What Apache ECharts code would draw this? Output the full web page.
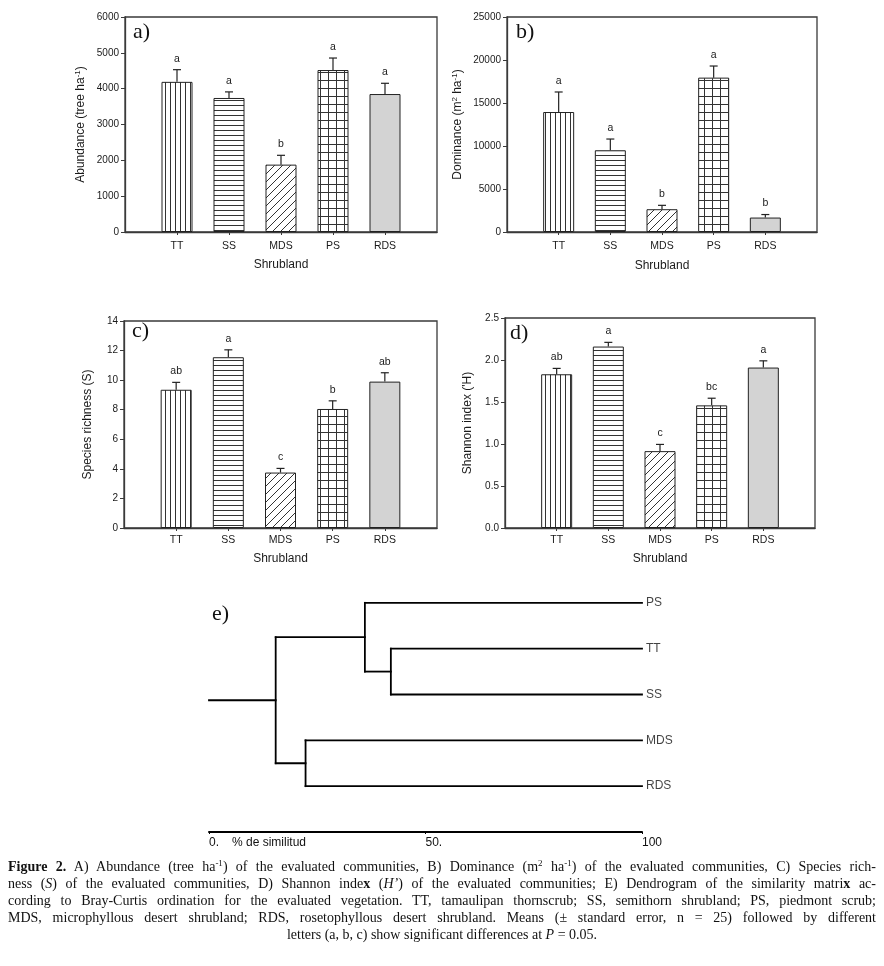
<!DOCTYPE html>
<html><head><meta charset="utf-8">
<script src="https://cdn.jsdelivr.net/npm/echarts@6/dist/echarts.min.js"></script>
<style>
html,body{margin:0;padding:0;background:#fff;}
#chart{position:absolute;left:0;top:0;width:884px;height:966px;}
#caption{position:absolute;left:8px;top:858px;width:868px;font-family:"Liberation Serif","Times New Roman",serif;font-size:14px;color:#111;}
#caption div{height:17px;line-height:17px;white-space:nowrap;text-align:justify;text-align-last:justify;}
#caption div.last{text-align:center;text-align-last:center;}
#caption sup{font-size:9px;line-height:0;vertical-align:5px;}
</style></head><body>
<div id="chart"></div>
<div id="caption"></div>
<script>
// ---------- data ----------
const shrublands = ['TT', 'SS', 'MDS', 'PS', 'RDS'];

const abundance = [4190, 3740, 1880, 4520, 3850];
const abundanceSE = [340, 170, 260, 335, 300];
const abundanceLetters = ['a', 'a', 'b', 'a', 'a'];

const dominance = [13950, 9500, 2650, 17950, 1680];
const dominanceSE = [2330, 1310, 450, 1350, 350];
const dominanceLetters = ['a', 'a', 'b', 'a', 'b'];

const richness = [9.35, 11.55, 3.75, 8.05, 9.9];
const richnessSE = [0.5, 0.5, 0.28, 0.55, 0.6];
const richnessLetters = ['ab', 'a', 'c', 'b', 'ab'];

const shannon = [1.83, 2.16, 0.915, 1.46, 1.91];
const shannonSE = [0.07, 0.05, 0.08, 0.085, 0.08];
const shannonLetters = ['ab', 'a', 'c', 'bc', 'a'];

const dendroLeaves = ['PS', 'TT', 'SS', 'MDS', 'RDS'];
// [childA, childB, similarity %]  (m0, m1... refer to earlier merges)
const dendroMerges = [
  ['TT', 'SS', 42.0],
  ['PS', 'm0', 36.0],
  ['MDS', 'RDS', 22.3],
  ['m1', 'm2', 15.4]
];
const dendroTickLabels = ['0.', '50.', '100'];

const captionLines = [
  '<b>Figure 2.</b> A) Abundance (tree ha<sup>-1</sup>) of the evaluated communities, B) Dominance (m<sup>2</sup> ha<sup>-1</sup>) of the evaluated communities, C) Species rich-',
  'ness (<i>S</i>) of the evaluated communities, D) Shannon inde<b>x</b> (<i>H’</i>) of the evaluated communities; E) Dendrogram of the similarity matri<b>x</b> ac-',
  'cording to Bray-Curtis ordination for the evaluated vegetation. TT, tamaulipan thornscrub; SS, semithorn shrubland; PS, piedmont scrub;',
  'MDS, microphyllous desert shrubland; RDS, rosetophyllous desert shrubland. Means (± standard error, n = 25) followed by different',
  'letters (a, b, c) show significant differences at <i>P</i> = 0.05.'
];

// ---------- caption ----------
document.getElementById('caption').innerHTML = captionLines
  .map((l, i) => '<div' + (i === captionLines.length - 1 ? ' class="last"' : '') + '>' + l + '</div>').join('');

// ---------- patterns ----------
function makePattern(kind) {
  const c = document.createElement('canvas');
  const s = kind === 'vertical' || kind === 'horizontal' ? 5 : 8;
  c.width = s; c.height = s;
  const ctx = c.getContext('2d');
  ctx.fillStyle = '#ffffff';
  ctx.fillRect(0, 0, s, s);
  ctx.strokeStyle = '#333333';
  ctx.lineWidth = 1;
  ctx.beginPath();
  if (kind === 'vertical' || kind === 'grid') { ctx.moveTo(0.5, 0); ctx.lineTo(0.5, s); }
  if (kind === 'horizontal' || kind === 'grid') { ctx.moveTo(0, 0.5); ctx.lineTo(s, 0.5); }
  if (kind === 'diagonal') {
    ctx.moveTo(-1, s + 1); ctx.lineTo(s + 1, -1);
    ctx.moveTo(-1, 1); ctx.lineTo(1, -1);
    ctx.moveTo(s - 1, s + 1); ctx.lineTo(s + 1, s - 1);
  }
  ctx.stroke();
  return { image: c, repeat: 'repeat' };
}
const barFills = [makePattern('vertical'), makePattern('horizontal'), makePattern('diagonal'), makePattern('grid'), '#d3d3d3'];

// ---------- layout ----------
const SANS = 'Liberation Sans, Arial, sans-serif';
const SERIF = 'Liberation Serif, Times New Roman, serif';
const panels = [
  { grid: { left: 125, top: 17, width: 312, height: 215 }, vals: abundance, se: abundanceSE, letters: abundanceLetters,
    max: 6000, interval: 1000, name: '{n|Abundance (tree ha}{s|-1}{n|)}', nameGap: 37, xNameGap: 27, xMargin: 9, tag: 'a)', tagPos: [133, 21] },
  { grid: { left: 507, top: 17, width: 310, height: 215 }, vals: dominance, se: dominanceSE, letters: dominanceLetters,
    max: 25000, interval: 5000, name: '{n|Dominance (m}{s|2}{n| ha}{s|-1}{n|)}', nameGap: 42, xNameGap: 28, xMargin: 9, tag: 'b)', tagPos: [516, 21] },
  { grid: { left: 124, top: 321, width: 313, height: 207 }, vals: richness, se: richnessSE, letters: richnessLetters,
    max: 14, interval: 2, name: '{n|Species richness (S)}', nameGap: 29, xNameGap: 25, xMargin: 7, tag: 'c)', tagPos: [132, 320] },
  { grid: { left: 505, top: 318, width: 310, height: 210 }, vals: shannon, se: shannonSE, letters: shannonLetters,
    max: 2.5, interval: 0.5, name: "{n|Shannon index ('H)}", nameGap: 30, xNameGap: 25, xMargin: 7, tag: 'd)', tagPos: [510, 322], dec: 1 }
];

const xCats = [''].concat(shrublands, ['']);
const option = {
  animation: false,
  backgroundColor: '#ffffff',
  textStyle: { fontFamily: SANS },
  title: [],
  grid: [],
  xAxis: [],
  yAxis: [],
  series: [],
  graphic: []
};

panels.forEach((p, gi) => {
  option.grid.push(Object.assign({ show: true, borderColor: '#3a3a3a', borderWidth: 1.3, backgroundColor: 'transparent' }, p.grid));
  option.title.push({ text: p.tag, left: p.tagPos[0], top: p.tagPos[1], padding: 0,
    textStyle: { fontFamily: SERIF, fontSize: 22, fontWeight: 'normal', color: '#111' } });
  option.xAxis.push({
    gridIndex: gi, type: 'category', data: xCats, boundaryGap: false,
    axisLine: { lineStyle: { color: '#3a3a3a', width: 1.3 } },
    axisTick: { show: true, length: 3, interval: (idx, val) => val !== '', lineStyle: { color: '#3a3a3a' } },
    axisLabel: { interval: 0, fontSize: 10.5, color: '#1a1a1a', margin: p.xMargin },
    name: 'Shrubland', nameLocation: 'middle', nameGap: p.xNameGap,
    nameTextStyle: { fontSize: 12, color: '#1a1a1a' },
    splitLine: { show: false }
  });
  option.yAxis.push({
    gridIndex: gi, type: 'value', min: 0, max: p.max, interval: p.interval,
    axisLine: { show: true, lineStyle: { color: '#3a3a3a', width: 1.3 } },
    axisTick: { show: true, length: 4, lineStyle: { color: '#3a3a3a' } },
    axisLabel: { fontSize: 10, color: '#1a1a1a', margin: 6,
      formatter: v => p.dec ? v.toFixed(p.dec) : String(v) },
    splitLine: { show: false },
    name: p.name, nameLocation: 'middle', nameGap: p.nameGap, nameRotate: 90,
    nameTextStyle: { rich: {
      n: { fontSize: 12, color: '#1a1a1a', fontFamily: SANS, lineHeight: 14 },
      s: { fontSize: 8, color: '#1a1a1a', fontFamily: SANS, lineHeight: 8, verticalAlign: 'top' }
    } }
  });
  option.series.push({
    type: 'bar', xAxisIndex: gi, yAxisIndex: gi, barWidth: 31,
    data: p.vals.map((v, i) => ({ value: [i + 1, v], itemStyle: { color: barFills[i] } })),
    itemStyle: { borderColor: '#222', borderWidth: 1 },
    silent: true
  });
  option.series.push({
    type: 'custom', xAxisIndex: gi, yAxisIndex: gi,
    data: p.vals.map((v, i) => [i + 1, v, v + p.se[i]]),
    encode: { x: 0, y: 2 },
    renderItem: (params, api) => {
      const i = params.dataIndex;
      const b = api.coord([api.value(0), api.value(1)]);
      const t = api.coord([api.value(0), api.value(2)]);
      const st = { stroke: '#222', lineWidth: 1.2 };
      return { type: 'group', children: [
        { type: 'line', shape: { x1: b[0], y1: b[1], x2: t[0], y2: t[1] }, style: st },
        { type: 'line', shape: { x1: t[0] - 4, y1: t[1], x2: t[0] + 4, y2: t[1] }, style: st },
        { type: 'text', x: t[0], y: t[1] - 11, style: { text: p.letters[i], fontSize: 10.5, fontFamily: SANS,
          fill: '#1a1a1a', align: 'center', verticalAlign: 'middle' } }
      ] };
    },
    silent: true
  });
});

// ---------- dendrogram ----------
const pos = {};
dendroLeaves.forEach((n, i) => { pos[n] = { x: 100, y: i + 1 }; });
const segs = [];
dendroMerges.forEach((m, k) => {
  const a = pos[m[0]], b = pos[m[1]], s = m[2];
  pos['m' + k] = { x: s, y: (a.y + b.y) / 2 };
  segs.push([s, a.y, s, b.y]);
  segs.push([s, a.y, a.x, a.y]);
  segs.push([s, b.y, b.x, b.y]);
});
const root = pos['m' + (dendroMerges.length - 1)];
segs.push([0, root.y, root.x, root.y]);

const dg = option.grid.length;
option.grid.push({ left: 209, top: 557, width: 433, height: 275, show: false });
option.title.push({ text: 'e)', left: 212, top: 603, padding: 0,
  textStyle: { fontFamily: SERIF, fontSize: 22, fontWeight: 'normal', color: '#111' } });
option.xAxis.push({
  gridIndex: dg, type: 'value', min: 0, max: 100, interval: 50, position: 'bottom',
  axisLine: { show: true, onZero: false, lineStyle: { color: '#000', width: 2 } },
  axisTick: { show: true, length: 2, lineStyle: { color: '#000' } },
  axisLabel: { fontSize: 12, color: '#111', margin: 5, align: 'left',
    formatter: v => dendroTickLabels[Math.round(v / 50)] },
  splitLine: { show: false }
});
option.yAxis.push({ gridIndex: dg, type: 'value', min: 0, max: 6, inverse: true, show: false, splitLine: { show: false } });
option.series.push({
  type: 'custom', xAxisIndex: dg, yAxisIndex: dg, data: segs,
  encode: { x: [0, 2], y: [1, 3] },
  renderItem: (params, api) => {
    const p1 = api.coord([api.value(0), api.value(1)]);
    const p2 = api.coord([api.value(2), api.value(3)]);
    return { type: 'line', shape: { x1: p1[0], y1: p1[1], x2: p2[0], y2: p2[1] },
      style: { stroke: '#000', lineWidth: 1.8, lineCap: 'square' } };
  },
  silent: true
});
option.series.push({
  type: 'scatter', xAxisIndex: dg, yAxisIndex: dg, symbolSize: 0,
  data: dendroLeaves.map((n, i) => [100, i + 1]),
  label: { show: true, position: 'right', distance: 4, fontSize: 12, color: '#111',
    formatter: p => dendroLeaves[p.dataIndex] },
  silent: true
});
option.graphic.push({ type: 'text', left: 232, top: 837,
  style: { text: '% de similitud', fontSize: 12, fill: '#111', fontFamily: SANS } });

const chart = echarts.init(document.getElementById('chart'), null, { renderer: 'canvas' });
chart.setOption(option);
</script></body></html>
